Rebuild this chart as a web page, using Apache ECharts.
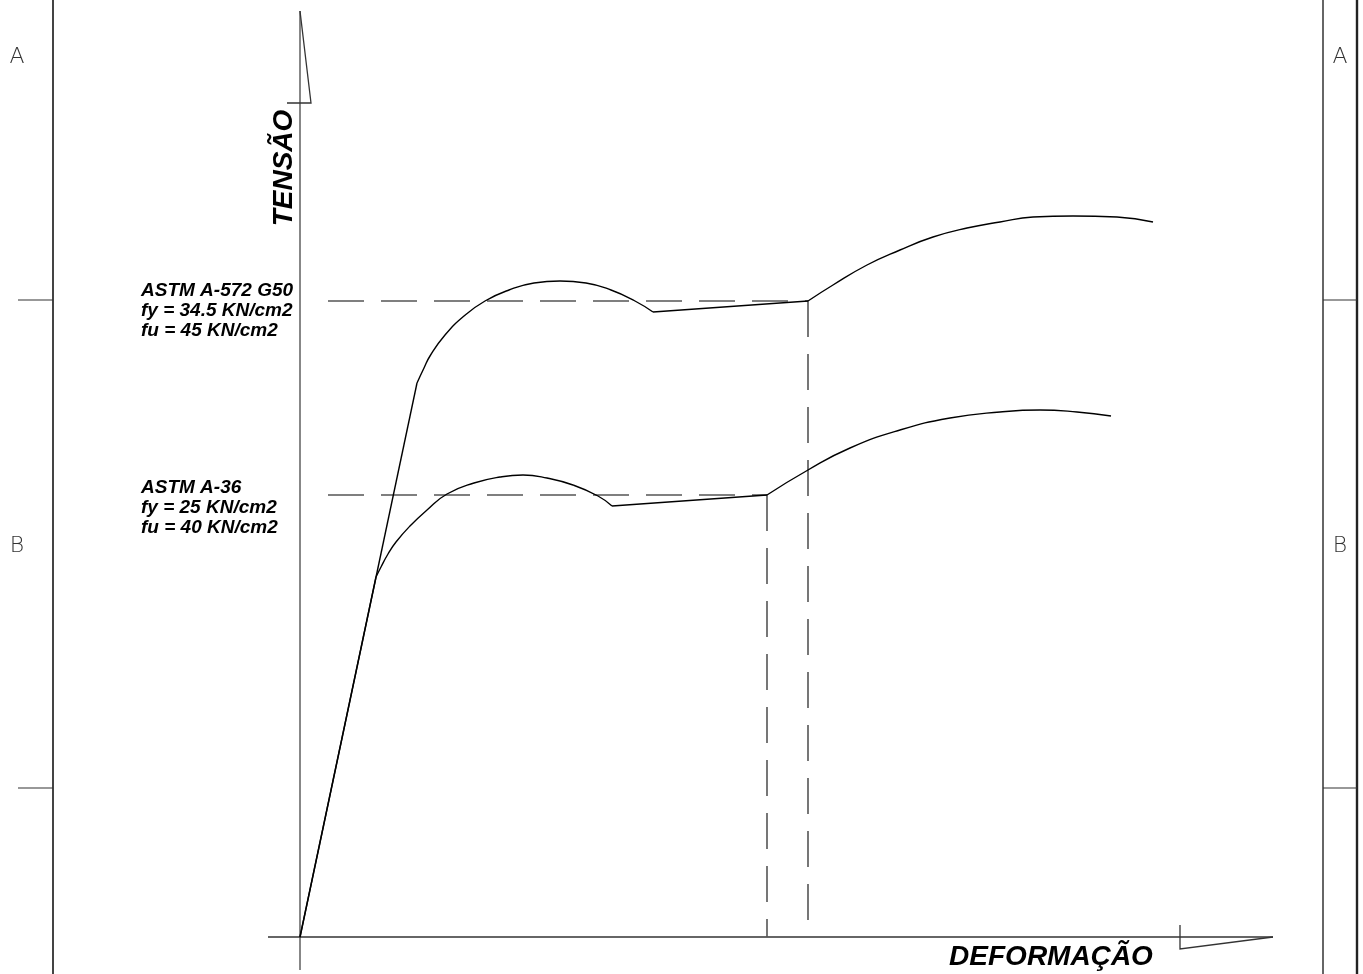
<!DOCTYPE html>
<html>
<head>
<meta charset="utf-8">
<script src="https://cdn.jsdelivr.net/npm/echarts@6/dist/echarts.min.js"></script>
<style>
  html, body { margin: 0; padding: 0; background: #fff; }
  #chart { width: 1363px; height: 974px; }
</style>
</head>
<body>
<div id="chart"></div>
<script>
// Stress–strain curves (arbitrary strain units on x, stress units on y; drawing not to scale)
// ASTM A-572 G50
const a572Elastic = [[0, 0], [11.7, 55.4]];
const a572Arc = [
  [11.7, 55.4], [12.4, 56.9], [13.0, 58.1], [14.5, 60.2], [16.4, 62.1], [18.5, 63.6],
  [20.9, 64.7], [23.4, 65.4], [26.0, 65.6], [28.6, 65.4], [31.1, 64.7], [33.5, 63.6], [35.3, 62.5]
];
const a572Plateau = [[35.3, 62.5], [50.8, 63.6]];
const a572Hardening = [
  [50.8, 63.6], [53.3, 65.2], [56.7, 67.2], [60.0, 68.7], [63.3, 70.0], [66.7, 70.9], [70.0, 71.5],
  [73.3, 72.0], [77.3, 72.1], [81.7, 72.0], [85.3, 71.5]
];
// ASTM A-36
const a36Elastic = [[0, 0], [7.6, 36.0]];
const a36Arc = [
  [7.6, 36.0], [8.1, 37.0], [8.8, 38.3], [9.6, 39.5], [11.0, 41.1], [12.7, 42.7], [14.7, 44.3],
  [17.4, 45.4], [20.0, 46.0], [22.3, 46.2], [24.7, 45.9], [27.3, 45.2], [29.8, 44.1], [31.2, 43.1]
];
const a36Plateau = [[31.2, 43.1], [46.7, 44.2]];
const a36Hardening = [
  [46.7, 44.2], [50.8, 46.7], [55.0, 48.9], [60.0, 50.7], [65.0, 51.9], [70.0, 52.5], [74.0, 52.7],
  [77.7, 52.5], [81.1, 52.1]
];
// yield guides: [x start, x yield, fy level]
const a572Yield = [2.8, 50.8, 63.6];
const a36Yield = [2.8, 46.7, 44.2];

const a572Labels = ['ASTM A-572 G50', 'fy = 34.5 KN/cm2', 'fu = 45 KN/cm2'];
const a36Labels = ['ASTM A-36', 'fy = 25 KN/cm2', 'fu = 40 KN/cm2'];
const axisTitles = ['TENSÃO', 'DEFORMAÇÃO'];
const zoneLetters = ['A', 'B'];

// drawing-axis extents
const yAxisLine = [[0, 92.6], [0, -3.3]];
const xAxisLine = [[-3.2, 0], [97.3, 0]];
const yAxisMark = [[0, 92.6], [1.1, 83.4], [-1.3, 83.4]];
const xAxisMark = [[88.0, 1.2], [88.0, -1.2], [97.3, 0]];

// sheet frame
const frameLeft = [[-24.7, 93.7], [-24.7, -3.7]];
const frameRightInner = [[102.3, 93.7], [102.3, -3.7]];
const frameRightOuter = [[105.7, 93.7], [105.7, -3.7]];
const frameTickLevels = [63.7, 14.9];

const chart = echarts.init(document.getElementById('chart'), null, { renderer: 'canvas' });

const dash = [36, 17];
const guideStyle = { color: '#555', width: 1.6, type: dash, opacity: 1 };

function seg(coords) { return { coords: coords }; }

const frameTicks = [];
frameTickLevels.forEach(function (y) {
  frameTicks.push(seg([[-28.2, y], [-24.7, y]]));
  frameTicks.push(seg([[102.3, y], [105.7, y]]));
});

function curve(name, data, smooth) {
  return { type: 'line', name: name, data: data, showSymbol: false, symbol: 'none',
           smooth: smooth, silent: true, lineStyle: { color: '#000', width: 1.4 } };
}

const labelFont = 'italic bold 19px "Liberation Sans", Arial, sans-serif';
const titleFont = 'italic bold 28px "Liberation Sans", Arial, sans-serif';
const letterFont = '200 22px "DejaVu Sans", sans-serif';

chart.setOption({
  animation: false,
  backgroundColor: '#ffffff',
  grid: { left: 0, right: 0, top: 0, bottom: 0 },
  xAxis: { type: 'value', min: -30, max: 106.3, show: false },
  yAxis: { type: 'value', min: -3.7, max: 93.7, show: false },
  series: [
    { type: 'lines', coordinateSystem: 'cartesian2d', polyline: true, silent: true,
      lineStyle: { color: '#444', width: 2, opacity: 1 },
      data: [seg(frameLeft)] },
    { type: 'lines', coordinateSystem: 'cartesian2d', polyline: true, silent: true,
      lineStyle: { color: '#666', width: 2, opacity: 1 },
      data: [seg(frameRightInner)] },
    { type: 'lines', coordinateSystem: 'cartesian2d', polyline: true, silent: true,
      lineStyle: { color: '#222', width: 2.4, opacity: 1 },
      data: [seg(frameRightOuter)] },
    { type: 'lines', coordinateSystem: 'cartesian2d', polyline: true, silent: true,
      lineStyle: { color: '#333', width: 1.2, opacity: 1 },
      data: frameTicks },
    // axes of the drawing
    { type: 'lines', coordinateSystem: 'cartesian2d', polyline: true, silent: true,
      lineStyle: { color: '#7a7a7a', width: 1.8, opacity: 1 },
      data: [seg(yAxisLine)] },
    { type: 'lines', coordinateSystem: 'cartesian2d', polyline: true, silent: true,
      lineStyle: { color: '#333', width: 1.3, opacity: 1 },
      data: [seg(xAxisLine), seg(yAxisMark), seg(xAxisMark)] },
    // yield guides
    { type: 'lines', coordinateSystem: 'cartesian2d', polyline: true, silent: true,
      lineStyle: guideStyle,
      data: [
        seg([[a572Yield[0], a572Yield[2]], [a572Yield[1], a572Yield[2]]]),
        seg([[a572Yield[1], a572Yield[2]], [a572Yield[1], 0]]),
        seg([[a36Yield[0], a36Yield[2]], [a36Yield[1], a36Yield[2]]]),
        seg([[a36Yield[1], a36Yield[2]], [a36Yield[1], 0]])
      ] },
    // curves
    curve('A-572 elastic', a572Elastic, false),
    curve('A-572 arc', a572Arc, true),
    curve('A-572 plateau', a572Plateau, false),
    curve('A-572 hardening', a572Hardening, true),
    curve('A-36 elastic', a36Elastic, false),
    curve('A-36 arc', a36Arc, true),
    curve('A-36 plateau', a36Plateau, false),
    curve('A-36 hardening', a36Hardening, true)
  ],
  graphic: [
    { type: 'text', x: 141, y: 281, silent: true,
      style: { text: a572Labels.join('\n'), font: labelFont, fill: '#000', lineHeight: 20,
               textAlign: 'left', textVerticalAlign: 'top' } },
    { type: 'text', x: 141, y: 478, silent: true,
      style: { text: a36Labels.join('\n'), font: labelFont, fill: '#000', lineHeight: 20,
               textAlign: 'left', textVerticalAlign: 'top' } },
    { type: 'text', x: 284, y: 168, rotation: Math.PI / 2, silent: true,
      style: { text: axisTitles[0], font: titleFont, fill: '#000',
               textAlign: 'center', textVerticalAlign: 'middle' } },
    { type: 'text', x: 1051, y: 957, silent: true,
      style: { text: axisTitles[1], font: titleFont, fill: '#000',
               textAlign: 'center', textVerticalAlign: 'middle' } },
    { type: 'text', x: 17, y: 57, silent: true,
      style: { text: zoneLetters[0], font: letterFont, fill: '#333', textAlign: 'center', textVerticalAlign: 'middle' } },
    { type: 'text', x: 17, y: 546, silent: true,
      style: { text: zoneLetters[1], font: letterFont, fill: '#333', textAlign: 'center', textVerticalAlign: 'middle' } },
    { type: 'text', x: 1340, y: 57, silent: true,
      style: { text: zoneLetters[0], font: letterFont, fill: '#333', textAlign: 'center', textVerticalAlign: 'middle' } },
    { type: 'text', x: 1340, y: 546, silent: true,
      style: { text: zoneLetters[1], font: letterFont, fill: '#333', textAlign: 'center', textVerticalAlign: 'middle' } }
  ]
});
</script>
</body>
</html>
